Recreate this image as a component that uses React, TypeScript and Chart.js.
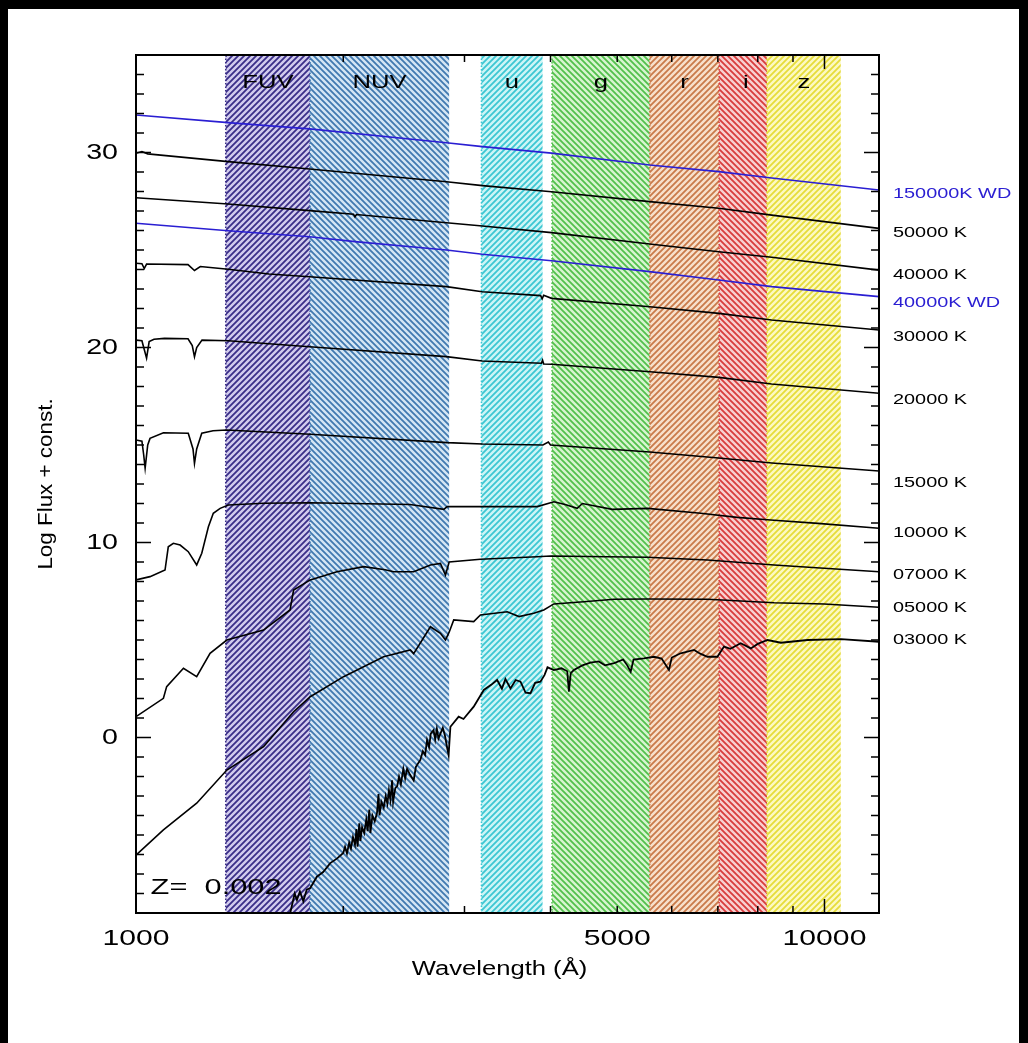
import React, { useEffect, useRef } from 'react';
import { Chart, registerables } from 'chart.js';

Chart.register(...registerables);

const W = 1028;
const H = 1043;

// ---------- axes ----------
const xMin = 1000;
const xMax = 12000;
const yMin = -9;
const yMax = 35;
const xTickValues = [1000, 2000, 3000, 4000, 5000, 6000, 7000, 8000, 9000, 10000];
const xMajorTicks = [1000, 10000];
const xLabelValues = [1000, 5000, 10000];
const yLabelValues = [0, 10, 20, 30];
const xTitle = 'Wavelength (Å)';
const yTitle = 'Log Flux + const.';
const annotationText = 'Z=  0.002';
const annotationPos = [1050, -7.7];

// ---------- photometric bands ----------
const bandNames = ['FUV', 'NUV', 'u', 'g', 'r', 'i', 'z'];
const bandStart = [1350, 1790, 3175, 4020, 5575, 7030, 8250];
const bandEnd = [1790, 2850, 3895, 5575, 7030, 8400, 10560];
const bandLineColors = ['#3a2e88', '#4079b0', '#3cc6d2', '#52c04c', '#c97a4a', '#d83c3c', '#e6dc3a'];
const bandFillColors = ['#d2ccee', '#d4e6f4', '#cdf5f6', '#d8f4d0', '#f7e0cc', '#f8d0d0', '#fcf9c2'];
const bandDirections = [1, -1, 1, -1, 1, -1, 1];
const bandLabelValue = 33.6;

// ---------- spectra: [wavelength (Å), log flux + const] ----------
const spec150000WD: [number, number][] = [
  [1000, 31.92], [1361, 31.53], [1787, 31.21], [2824, 30.5], [3186, 30.3], [4014, 29.97],
  [5573, 29.36], [7021, 29.02], [8383, 28.69], [12000, 28.08],
];
const spec50000: [number, number][] = [
  [1000, 29.96], [1020, 30.05], [1040, 29.93], [1361, 29.53], [1787, 29.15], [2824, 28.5], [3186, 28.3],
  [4014, 27.99], [5573, 27.48], [7021, 27.14], [8383, 26.79], [12000, 26.11],
];
const spec40000: [number, number][] = [
  [1000, 27.68], [1361, 27.36], [1787, 27.02], [2070, 26.83], [2080, 26.7], [2090, 26.82],
  [2824, 26.4], [3186, 26.23], [4014, 25.89], [5573, 25.31], [7021, 24.91], [8383, 24.63], [12000, 23.97],
];
const spec40000WD: [number, number][] = [
  [1000, 26.37], [1361, 25.99], [1787, 25.68], [2080, 25.43], [2824, 25.0], [3186, 24.78],
  [4014, 24.45], [5573, 23.89], [7021, 23.46], [8383, 23.12], [12000, 22.61],
];
const spec30000: [number, number][] = [
  [1000, 24.32], [1020, 24.3], [1028, 24.05], [1036, 24.28], [1190, 24.25], [1216, 23.95], [1240, 24.15],
  [1361, 24.01], [1560, 23.77], [1787, 23.63], [2824, 23.12], [3183, 22.86], [3870, 22.66], [3890, 22.5],
  [3910, 22.68], [4014, 22.52], [5577, 22.09], [7026, 21.75], [8377, 21.41], [12000, 20.9],
];
const spec20000: [number, number][] = [
  [1000, 20.38], [1020, 20.35], [1028, 19.9], [1036, 19.45], [1045, 20.3], [1062, 20.42], [1100, 20.47],
  [1190, 20.45], [1207, 20.1], [1216, 19.53], [1225, 20.0], [1247, 20.38], [1361, 20.35], [1787, 20.04],
  [2823, 19.53], [3183, 19.31], [3880, 19.19], [3895, 19.35], [3910, 19.15], [4016, 19.14], [5577, 18.76],
  [7026, 18.47], [8377, 18.13], [12000, 17.65],
];
const spec15000: [number, number][] = [
  [1000, 15.26], [1020, 15.2], [1026, 14.5], [1031, 13.81], [1040, 15.0], [1048, 15.34], [1096, 15.63],
  [1191, 15.6], [1210, 14.8], [1216, 14.06], [1225, 14.8], [1246, 15.6], [1294, 15.73], [1354, 15.77],
  [1791, 15.55], [2831, 15.12], [3186, 15.05], [3900, 15.0], [3971, 15.15], [4000, 15.0], [5573, 14.64],
  [7021, 14.33], [8383, 14.08], [12000, 13.67],
];
const spec10000: [number, number][] = [
  [1000, 8.08], [1048, 8.25], [1102, 8.59], [1114, 9.78], [1133, 9.96], [1159, 9.87], [1191, 9.53],
  [1225, 8.85], [1246, 9.45], [1274, 10.81], [1295, 11.5], [1325, 11.75], [1362, 11.92], [1532, 12.01],
  [1791, 12.04], [2500, 11.95], [2800, 11.7], [2831, 11.84], [3200, 11.84], [3827, 11.84], [4046, 12.09],
  [4200, 11.95], [4374, 11.75], [4450, 12.0], [4918, 11.7], [5536, 11.75], [6610, 11.5], [7469, 11.29],
  [8352, 11.15], [9779, 10.98], [12000, 10.73],
];
const spec7000: [number, number][] = [
  [1000, 1.07], [1096, 2.01], [1108, 2.61], [1172, 3.55], [1225, 3.12], [1281, 4.32], [1355, 5.0],
  [1532, 5.51], [1674, 6.54], [1694, 7.56], [1791, 8.08], [1958, 8.5], [2141, 8.76], [2300, 8.6],
  [2367, 8.5], [2531, 8.5], [2677, 8.85], [2768, 8.93], [2815, 8.33], [2850, 9.0], [3164, 9.14],
  [3825, 9.27], [4000, 9.31], [4837, 9.27], [5530, 9.24], [6761, 9.1], [8451, 8.85], [9991, 8.68],
  [12000, 8.5],
];
const spec5000: [number, number][] = [
  [1000, -6.03], [1096, -4.74], [1225, -3.37], [1355, -1.67], [1532, -0.47], [1694, 1.32], [1791, 2.09],
  [2002, 3.12], [2289, 4.14], [2503, 4.49], [2531, 4.3], [2677, 5.68], [2768, 5.34], [2815, 5.0],
  [2850, 5.4], [2894, 6.03], [3094, 5.94], [3164, 6.28], [3461, 6.45], [3600, 6.2], [3782, 6.37],
  [3911, 6.54], [4045, 6.85], [4472, 6.96], [4946, 7.09], [5530, 7.1], [6761, 7.09], [8451, 6.91],
  [9991, 6.85], [12000, 6.68],
];
const spec3000: [number, number][] = [
  [1640, -9.8], [1675, -9.0], [1700, -8.0], [1713, -8.33], [1730, -7.9], [1750, -8.4], [1770, -7.8],
  [1791, -7.72], [1831, -7.14], [1870, -6.9], [1915, -6.44], [1960, -6.2], [2000, -5.92], [2012, -5.6],
  [2025, -5.95], [2040, -5.4], [2052, -5.7], [2066, -5.1], [2080, -5.5], [2090, -4.7], [2098, -5.6],
  [2110, -4.4], [2118, -5.3], [2130, -4.6], [2145, -4.9], [2160, -4.2], [2170, -4.8], [2182, -3.7],
  [2190, -4.9], [2205, -4.0], [2222, -4.3], [2239, -3.87], [2250, -2.9], [2258, -4.0], [2272, -3.3],
  [2290, -3.6], [2305, -3.0], [2318, -3.4], [2330, -2.7], [2342, -3.2], [2355, -2.2], [2363, -3.3],
  [2380, -2.6], [2395, -2.5], [2410, -2.0], [2425, -2.4], [2445, -1.6], [2460, -2.1], [2476, -1.6],
  [2500, -1.9], [2531, -2.2], [2550, -1.5], [2588, -1.15], [2610, -0.7], [2630, -0.9], [2647, -0.13],
  [2665, -0.5], [2680, 0.2], [2705, 0.38], [2720, -0.1], [2735, 0.45], [2750, -0.05], [2768, 0.2],
  [2790, 0.5], [2810, 0.1], [2830, -0.5], [2845, -0.9], [2862, 0.55], [2942, 1.07], [2990, 0.95],
  [3094, 1.58], [3200, 2.44], [3280, 2.7], [3346, 2.95], [3400, 2.5], [3440, 3.0], [3499, 2.52],
  [3560, 2.95], [3618, 2.86], [3680, 2.3], [3741, 2.27], [3800, 2.8], [3867, 2.86], [3920, 3.2],
  [3960, 3.6], [4045, 3.46], [4150, 3.55], [4230, 3.4], [4254, 2.35], [4280, 3.3], [4325, 3.46],
  [4450, 3.7], [4571, 3.84], [4700, 3.9], [4800, 3.7], [4950, 3.81], [5100, 4.0], [5170, 3.7],
  [5230, 3.37], [5280, 4.0], [5468, 4.06], [5653, 4.14], [5800, 4.05], [5944, 3.46], [6000, 4.1],
  [6183, 4.32], [6465, 4.49], [6600, 4.3], [6761, 4.14], [6990, 4.14], [7146, 4.66], [7300, 4.55],
  [7556, 4.83], [7816, 4.57], [8000, 4.8], [8265, 5.0], [8643, 4.86], [9450, 5.0], [10565, 5.04],
  [12000, 4.91],
];

const seriesData = [
  spec150000WD, spec50000, spec40000, spec40000WD, spec30000, spec20000,
  spec15000, spec10000, spec7000, spec5000, spec3000,
];
const seriesNames = [
  '150000K WD', '50000 K', '40000 K', '40000K WD', '30000 K', '20000 K',
  '15000 K', '10000 K', '07000 K', '05000 K', '03000 K',
];
const BLUE = '#2a1ed2';
const seriesColors = [BLUE, '#000', '#000', BLUE, '#000', '#000', '#000', '#000', '#000', '#000', '#000'];
const seriesWidths = [1.6, 1.6, 1.6, 1.6, 1.6, 1.6, 1.6, 1.6, 1.6, 1.6, 1.8];
const labelValues = [27.87, 25.87, 23.72, 22.28, 20.54, 17.31, 13.05, 10.49, 8.33, 6.64, 5.0];

const FONT = '"Liberation Sans", Arial, sans-serif';

function drawText(
  ctx: CanvasRenderingContext2D, text: string, x: number, y: number,
  align: 'left' | 'center' | 'right', size: number, color: string, sx = 1.3,
) {
  ctx.save();
  ctx.font = `${size}px ${FONT}`;
  ctx.fillStyle = color;
  ctx.textBaseline = 'middle';
  ctx.textAlign = 'left';
  const w = ctx.measureText(text).width * sx;
  const x0 = align === 'center' ? x - w / 2 : align === 'right' ? x - w : x;
  ctx.translate(x0, y);
  ctx.scale(sx, 1);
  ctx.fillText(text, 0, 0);
  ctx.restore();
}

function makeHatch(line: string, fill: string, dir: number): CanvasPattern | string {
  const s = 6;
  const c = document.createElement('canvas');
  c.width = s;
  c.height = s;
  const g = c.getContext('2d');
  if (!g) return fill;
  g.fillStyle = fill;
  g.fillRect(0, 0, s, s);
  g.strokeStyle = line;
  g.lineWidth = 1.8;
  g.beginPath();
  if (dir > 0) {
    g.moveTo(-s, 2 * s); g.lineTo(2 * s, -s);
    g.moveTo(-s, s); g.lineTo(s, -s);
    g.moveTo(0, 2 * s); g.lineTo(2 * s, 0);
  } else {
    g.moveTo(-s, -s); g.lineTo(2 * s, 2 * s);
    g.moveTo(-s, 0); g.lineTo(s, 2 * s);
    g.moveTo(0, -s); g.lineTo(2 * s, s);
  }
  g.stroke();
  const p = g.createPattern(c, 'repeat');
  return p || fill;
}

const sedPlugin = {
  id: 'sedPlugin',
  beforeDraw(chart: any) {
    const ctx: CanvasRenderingContext2D = chart.ctx;
    ctx.save();
    ctx.fillStyle = '#000';
    ctx.fillRect(0, 0, W, H);
    ctx.fillStyle = '#fff';
    ctx.fillRect(8, 9, W - 17, H - 9);
    ctx.restore();
  },
  beforeDatasetsDraw(chart: any) {
    const ctx: CanvasRenderingContext2D = chart.ctx;
    const xs = chart.scales.x;
    const a = chart.chartArea;
    ctx.save();
    for (let i = 0; i < bandNames.length; i++) {
      const x0 = xs.getPixelForValue(bandStart[i]);
      const x1 = xs.getPixelForValue(bandEnd[i]);
      ctx.fillStyle = makeHatch(bandLineColors[i], bandFillColors[i], bandDirections[i]) as any;
      ctx.fillRect(x0, a.top, x1 - x0, a.bottom - a.top);
    }
    ctx.setLineDash([1.5, 2]);
    ctx.lineWidth = 1.5;
    for (let i = 0; i < bandNames.length; i++) {
      const x0 = xs.getPixelForValue(bandStart[i]);
      ctx.strokeStyle = bandLineColors[i];
      ctx.beginPath();
      ctx.moveTo(x0, a.top);
      ctx.lineTo(x0, a.bottom);
      ctx.stroke();
    }
    ctx.restore();
  },
  afterDatasetsDraw(chart: any) {
    const ctx: CanvasRenderingContext2D = chart.ctx;
    const xs = chart.scales.x;
    const ys = chart.scales.y;
    const a = chart.chartArea;
    ctx.save();
    // frame
    ctx.strokeStyle = '#000';
    ctx.lineWidth = 2;
    ctx.strokeRect(a.left, a.top, a.right - a.left, a.bottom - a.top);
    // x ticks (inward, top and bottom)
    ctx.lineWidth = 1.5;
    ctx.beginPath();
    for (const v of xTickValues) {
      const px = xs.getPixelForValue(v);
      const len = xMajorTicks.includes(v) ? 14 : 7;
      ctx.moveTo(px, a.bottom); ctx.lineTo(px, a.bottom - len);
      ctx.moveTo(px, a.top); ctx.lineTo(px, a.top + len);
    }
    // y ticks (inward, left and right)
    for (let v = Math.ceil(yMin); v <= yMax; v++) {
      const py = ys.getPixelForValue(v);
      const len = v % 10 === 0 ? 15 : 8;
      ctx.moveTo(a.left, py); ctx.lineTo(a.left + len, py);
      ctx.moveTo(a.right, py); ctx.lineTo(a.right - len, py);
    }
    ctx.stroke();
    // tick labels
    for (const v of xLabelValues) {
      drawText(ctx, String(v), xs.getPixelForValue(v), a.bottom + 26, 'center', 22, '#000', 1.37);
    }
    for (const v of yLabelValues) {
      drawText(ctx, String(v), a.left - 18, ys.getPixelForValue(v), 'right', 22, '#000', 1.3);
    }
    // axis titles
    drawText(ctx, xTitle, (a.left + a.right) / 2 - 8, a.bottom + 56, 'center', 20, '#000', 1.28);
    ctx.save();
    ctx.translate(46, (a.top + a.bottom) / 2);
    ctx.rotate(-Math.PI / 2);
    drawText(ctx, yTitle, 0, 0, 'center', 20, '#000', 1.12);
    ctx.restore();
    // band labels
    for (let i = 0; i < bandNames.length; i++) {
      const c = Math.sqrt(bandStart[i] * bandEnd[i]);
      drawText(ctx, bandNames[i], xs.getPixelForValue(c), ys.getPixelForValue(bandLabelValue), 'center', 19, '#000', 1.35);
    }
    // series labels
    for (let i = 0; i < seriesNames.length; i++) {
      drawText(ctx, seriesNames[i], a.right + 14, ys.getPixelForValue(labelValues[i]), 'left', 14, seriesColors[i], 1.42);
    }
    // metallicity annotation
    drawText(ctx, annotationText, xs.getPixelForValue(annotationPos[0]), ys.getPixelForValue(annotationPos[1]), 'left', 22, '#000', 1.4);
    ctx.restore();
  },
};

export default function App() {
  const ref = useRef<HTMLCanvasElement | null>(null);
  useEffect(() => {
    if (!ref.current) return;
    const chart = new Chart(ref.current, {
      type: 'line',
      data: {
        datasets: seriesData.map((d, i) => ({
          label: seriesNames[i],
          data: d.map(([x, y]) => ({ x, y })),
          borderColor: seriesColors[i],
          borderWidth: seriesWidths[i],
          pointRadius: 0,
          tension: 0,
          fill: false,
        })),
      },
      options: {
        animation: false,
        responsive: false,
        devicePixelRatio: 1,
        layout: { padding: { left: 136, right: 149, top: 55, bottom: 130 } },
        plugins: { legend: { display: false }, tooltip: { enabled: false } },
        scales: {
          x: { type: 'logarithmic', min: xMin, max: xMax, display: false },
          y: { type: 'linear', min: yMin, max: yMax, display: false },
        },
      },
      plugins: [sedPlugin],
    } as any);
    return () => chart.destroy();
  }, []);
  return (
    <div style={{ position: 'fixed', left: 0, top: 0, width: W, height: H, background: '#000' }}>
      <canvas ref={ref} width={W} height={H} style={{ display: 'block', width: W, height: H }} />
    </div>
  );
}
